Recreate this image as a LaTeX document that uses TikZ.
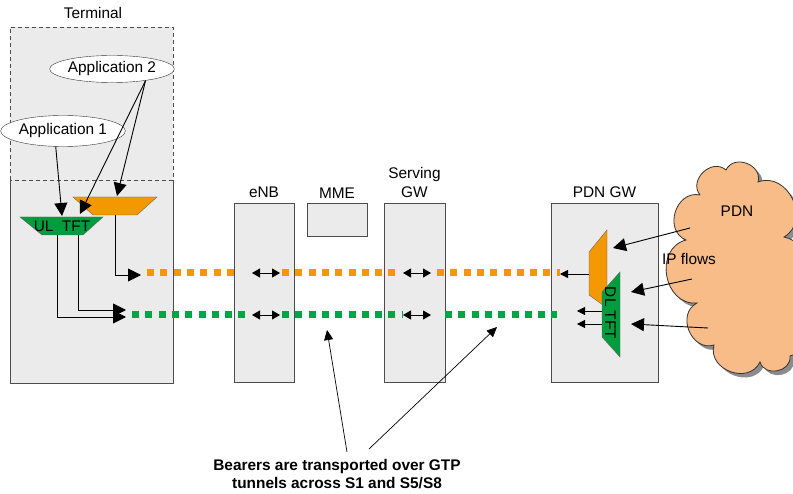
\documentclass[tikz,border=0pt]{standalone}
\usepackage{fontspec}
\setmainfont{Liberation Sans}
\usetikzlibrary{arrows.meta}
\usetikzlibrary{shapes.geometric}
\usetikzlibrary{positioning}
\definecolor{boxgray}{HTML}{EBEBEB}
\definecolor{dotorange}{HTML}{F39800}
\definecolor{dotgreen}{HTML}{00A546}
\definecolor{tftgreen}{HTML}{009C3E}
\definecolor{peach}{HTML}{F8BC89}
\tikzset{box/.style = {draw=black!70, fill=boxgray, line width=0.8pt}}
\tikzset{app/.style = {draw=black!80, ellipse, fill=white, inner sep=0}}
\tikzset{ptr/.style = {-{Triangle[length=13pt,width=13pt]}, line width=0.9pt}}
\tikzset{thin ptr/.style = {-{Triangle[length=10pt,width=9pt]}, line width=0.7pt}}
\tikzset{flow/.style = {-{Triangle[length=8pt,width=8pt]}, line width=0.8pt}}
\tikzset{twoway/.style = {{Triangle[length=8pt,width=9pt]}-{Triangle[length=8pt,width=9pt]}, line width=0.8pt}}
\tikzset{bearer/.style = {line width=7pt, dash pattern=on 7pt off 6.3pt}}
\tikzset{bump/.style = {bend left=85, looseness=1.35}}

\begin{document}
\begin{tikzpicture}[x=1pt, y=-1pt, font=\fontsize{15.4}{19}\selectfont]
    \useasboundingbox (0,0) rectangle (793,494);
    % terminal
    \fill [boxgray] (10,27) rectangle (173,383);
    \draw [black!70, line width=0.8pt, dash pattern=on 4pt off 3pt] (10,180) -- (10,27) -- (173,27) -- (173,180) -- cycle;
    \draw [black!70, line width=0.8pt] (10,180) -- (10,383) -- (173,383) -- (173,180);
    \node (term) at (93,13) {Terminal};
    \node [app, minimum width=106pt, minimum height=31pt] (app1) at (63,131) {Application 1};
    \node [app, minimum width=123pt, minimum height=27pt] (app2) at (112,69) {Application 2};
    \draw [fill=tftgreen, draw=black!60] (20,217) -- (103,217) -- (83,235) -- (42,235) -- cycle;
    \draw [fill=dotorange, draw=black!60] (73,197) -- (157,197) -- (137,215) -- (93,215) -- cycle;
    \node (ul) at (62,226) {UL\ \ TFT};
    \coordinate (ulA) at (62,216);
    \coordinate (ulB) at (80,214);
    \coordinate (orA) at (117,196);
    \coordinate (ulC) at (57,235);
    \coordinate (ulD) at (78,235);
    \coordinate (orB) at (115,215);
    \coordinate (ulE) at (126,317);
    \coordinate (ulF) at (126,310);
    \coordinate (orC) at (141,275);
    \draw [ptr] (app1.-115) -- (ulA);
    \draw [ptr] (app2.-19) -- (ulB);
    \draw [ptr] (app2.-19) -- (orA);
    \draw [ptr] (ulC) |- (ulE);
    \draw [ptr] (ulD) |- (ulF);
    \draw [ptr] (orB) |- (orC);

    % network nodes
    \node [box, minimum width=60pt, minimum height=179pt] (enb) at (264,292.5) {};
    \node [box, minimum width=60pt, minimum height=33pt] (mme) at (337,219.5) {};
    \node [box, minimum width=61pt, minimum height=179pt] (sgw) at (414.5,292.5) {};
    \node [box, minimum width=107pt, minimum height=179pt] (pgw) at (604.5,292.5) {};
    \node [above=1pt of enb] (enblabel) {eNB};
    \node [above=1pt of mme] (mmelabel) {MME};
    \node [above=1pt of sgw, align=center] (sgwlabel) {Serving\\GW};
    \node [above=1pt of pgw] (pgwlabel) {PDN GW};

    % bearers
    \draw [bearer, dotorange] (147,273) -- (240,273);
    \draw [bearer, dotorange] (282,273) -- (398,273);
    \draw [bearer, dotorange] (437,273) -- (560,273);
    \draw [bearer, dotgreen] (132,315) -- (248,315);
    \draw [bearer, dotgreen] (282,315) -- (402,315);
    \draw [bearer, dotgreen] (445,315) -- (557,315);
    \draw [twoway] (252,273) -- (280,273);
    \draw [twoway] (252,315) -- (280,315);
    \draw [twoway] (403,273) -- (431,273);
    \draw [twoway] (403,315) -- (431,315);

    % PDN GW
    \draw [fill=dotorange, draw=black!60] (589,252) -- (607,230) -- (607,308) -- (589,295) -- cycle;
    \draw [fill=tftgreen, draw=black!60] (602,292) -- (620,272) -- (620,357) -- (602,337) -- cycle;
    \node [rotate=-90] (dl) at (610.5,313) {DL TFT};
    \coordinate (dlA) at (589,274);
    \coordinate (dlB) at (602,311);
    \coordinate (dlC) at (602,324);
    \coordinate (dlD) at (560,274);
    \coordinate (dlE) at (577,311);
    \coordinate (dlF) at (577,324);
    \draw [flow] (dlA) -- (dlD);
    \draw [flow] (dlB) -- (dlE);
    \draw [flow] (dlC) -- (dlF);

    % PDN cloud
    \fill [black!45, shift={(4,4)}] (700,195) to[bump] (726,170)
        to[bump] (758,182) to[bump] (784,237)
        to[bend left=60] (805,300) to[bend left=60] (790,356) to[bump] (760,362)
        to[bump] (714,345) to[bump] (697,303)
        to[bump] (686,240) to[bump] (700,195);
    \draw [fill=peach, draw=black!80, line width=0.8pt] (700,195) to[bump] (726,170)
        to[bump] (758,182) to[bump] (784,237)
        to[bend left=60] (805,300) to[bend left=60] (790,356) to[bump] (760,362)
        to[bump] (714,345) to[bump] (697,303)
        to[bump] (686,240) to[bump] (700,195);
    \node (pdn) at (737,211) {PDN};
    \node (ipflows) at (689,259) {IP flows};
    \coordinate (ipA) at (690,228);
    \coordinate (ipB) at (692,279);
    \coordinate (ipC) at (708,328);
    \coordinate (ipD) at (613,248);
    \coordinate (ipE) at (631,292);
    \coordinate (ipF) at (631,324);
    \draw [ptr] (ipA) -- (ipD);
    \draw [ptr] (ipB) -- (ipE);
    \draw [ptr] (ipC) -- (ipF);

    % note
    \node [align=center, font=\bfseries\fontsize{15.4}{18}\selectfont] (note) at (337,474) {Bearers are transported over GTP\\tunnels across S1 and S5/S8};
    \coordinate (noteA) at (347,452);
    \coordinate (noteB) at (369,449);
    \coordinate (bearA) at (327,330);
    \coordinate (bearB) at (497,327);
    \draw [thin ptr] (noteA) -- (bearA);
    \draw [thin ptr] (noteB) -- (bearB);
\end{tikzpicture}
\end{document}
